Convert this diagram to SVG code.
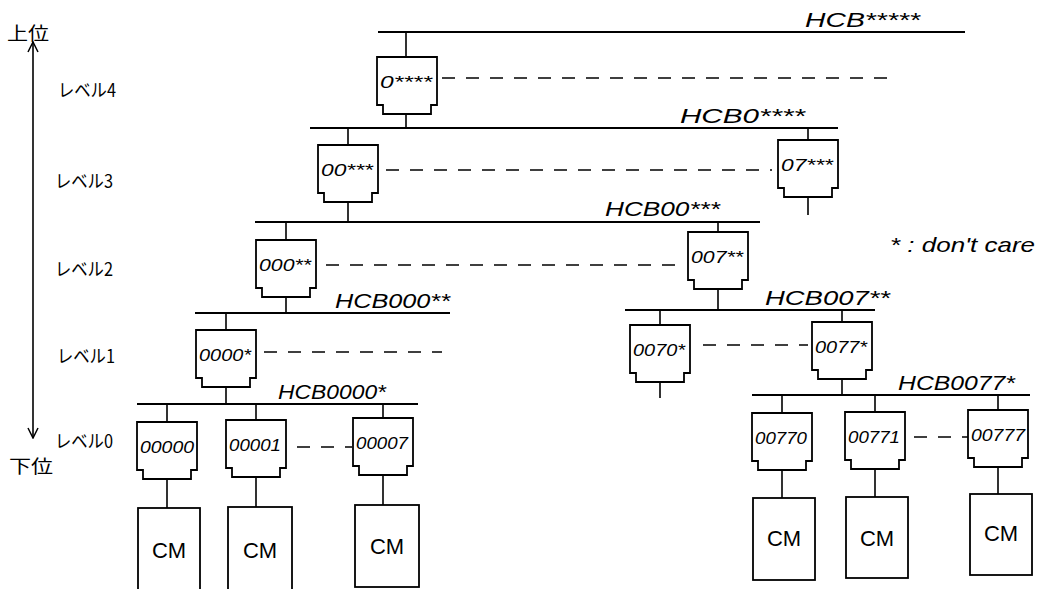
<svg xmlns="http://www.w3.org/2000/svg" width="1039" height="589" viewBox="0 0 1039 589">
<style>
.ln{stroke:#000;stroke-width:1.6;fill:none}
.bus{stroke:#000;stroke-width:2;fill:none}
.dash{stroke:#000;stroke-width:1.4;fill:none;stroke-dasharray:13 11}
.box{stroke:#000;stroke-width:1.8;fill:#fff}
.nt{font-family:"Liberation Sans",sans-serif;font-style:italic;font-size:17px;fill:#000}
.hcb{font-family:"Liberation Sans",sans-serif;font-style:italic;font-size:20px;fill:#000}
.lv{font-family:"Noto Sans CJK JP","Liberation Sans",sans-serif;font-size:18px;fill:#000}
.cm{font-family:"Liberation Sans",sans-serif;font-size:22px;fill:#000;text-anchor:middle}
.lg{font-family:"Liberation Sans",sans-serif;font-style:italic;font-size:21px;fill:#000}
</style>
<defs>
<path id="nd" d="M0,0 H60 V48 H54 V57 H6 V48 H0 Z"/>
<marker id="ah" viewBox="0 0 12 12" refX="11" refY="6" markerWidth="12" markerHeight="12" orient="auto-start-reverse" markerUnits="userSpaceOnUse">
<path d="M1,1 L11,6 L1,11" fill="none" stroke="#000" stroke-width="1.5"/>
</marker>
</defs>
<rect width="1039" height="589" fill="#fff"/>

<g id="axis">
<line class="ln" x1="33" y1="42" x2="33" y2="438" marker-start="url(#ah)" marker-end="url(#ah)"/>
<text class="lv" x="7" y="40" font-size="20" textLength="42" lengthAdjust="spacingAndGlyphs">上位</text>
<text class="lv" x="9" y="473" font-size="20" textLength="44" lengthAdjust="spacingAndGlyphs">下位</text>
<text class="lv" x="58" y="97" textLength="58" lengthAdjust="spacingAndGlyphs">レベル4</text>
<text class="lv" x="55" y="188" textLength="58" lengthAdjust="spacingAndGlyphs">レベル3</text>
<text class="lv" x="55" y="276" textLength="58" lengthAdjust="spacingAndGlyphs">レベル2</text>
<text class="lv" x="57" y="363" textLength="58" lengthAdjust="spacingAndGlyphs">レベル1</text>
<text class="lv" x="55" y="448" textLength="58" lengthAdjust="spacingAndGlyphs">レベル0</text>
</g>

<g id="connectors">
<line class="bus" x1="378" y1="32" x2="965" y2="32"/>
<line class="bus" x1="310" y1="128" x2="838" y2="128"/>
<line class="bus" x1="255" y1="222" x2="760" y2="222"/>
<line class="bus" x1="195" y1="313" x2="450" y2="313"/>
<line class="bus" x1="625" y1="310" x2="875" y2="310"/>
<line class="bus" x1="137" y1="404" x2="418" y2="404"/>
<line class="bus" x1="752" y1="395" x2="1030" y2="395"/>
<path class="ln" d="M406,32 V57 M406,114 V128 M348,128 V145 M808,128 V140 M348,202 V222 M808,197 V215 M286,222 V240 M718,222 V232 M286,297 V313 M718,289 V310 M226,313 V330 M660,310 V325 M842,310 V322 M226,387 V404 M660,382 V398 M842,379 V395 M167,404 V422 M256,404 V420 M383,404 V418 M782,395 V413 M875,395 V412 M998,395 V410 M167,479 V508 M256,477 V507 M383,475 V505 M782,470 V498 M875,469 V497 M998,467 V494"/>
<line class="dash" x1="442" y1="78" x2="890" y2="78"/>
<line class="dash" x1="386" y1="170" x2="772" y2="170"/>
<line class="dash" x1="326" y1="265" x2="686" y2="265"/>
<line class="dash" x1="264" y1="352" x2="442" y2="352"/>
<line class="dash" x1="703" y1="345" x2="808" y2="345"/>
<line class="dash" x1="297" y1="447" x2="352" y2="447"/>
<line class="dash" x1="914" y1="437" x2="968" y2="437"/>
<text class="hcb" x="805" y="27" textLength="115" lengthAdjust="spacingAndGlyphs">HCB*****</text>
<text class="hcb" x="680" y="123" textLength="125" lengthAdjust="spacingAndGlyphs">HCB0****</text>
<text class="hcb" x="605" y="216" textLength="115" lengthAdjust="spacingAndGlyphs">HCB00***</text>
<text class="hcb" x="335" y="308" textLength="115" lengthAdjust="spacingAndGlyphs">HCB000**</text>
<text class="hcb" x="765" y="305" textLength="125" lengthAdjust="spacingAndGlyphs">HCB007**</text>
<text class="hcb" x="278" y="399" textLength="108" lengthAdjust="spacingAndGlyphs">HCB0000*</text>
<text class="hcb" x="898" y="390" textLength="117" lengthAdjust="spacingAndGlyphs">HCB0077*</text>
</g>

<g id="n0____"><use href="#nd" class="box" x="377" y="57"/><text class="nt" x="380" y="88" textLength="52" lengthAdjust="spacingAndGlyphs">0****</text></g>
<g id="n00___"><use href="#nd" class="box" x="318" y="145"/><text class="nt" x="321" y="176" textLength="52" lengthAdjust="spacingAndGlyphs">00***</text></g>
<g id="n07___"><use href="#nd" class="box" x="778" y="140"/><text class="nt" x="781" y="171" textLength="52" lengthAdjust="spacingAndGlyphs">07***</text></g>
<g id="n000__"><use href="#nd" class="box" x="256" y="240"/><text class="nt" x="259" y="271" textLength="52" lengthAdjust="spacingAndGlyphs">000**</text></g>
<g id="n007__"><use href="#nd" class="box" x="688" y="232"/><text class="nt" x="691" y="263" textLength="52" lengthAdjust="spacingAndGlyphs">007**</text></g>
<g id="n0000_"><use href="#nd" class="box" x="196" y="330"/><text class="nt" x="199" y="361" textLength="52" lengthAdjust="spacingAndGlyphs">0000*</text></g>
<g id="n0070_"><use href="#nd" class="box" x="630" y="325"/><text class="nt" x="633" y="356" textLength="52" lengthAdjust="spacingAndGlyphs">0070*</text></g>
<g id="n0077_"><use href="#nd" class="box" x="812" y="322"/><text class="nt" x="815" y="353" textLength="52" lengthAdjust="spacingAndGlyphs">0077*</text></g>
<g id="n00000"><use href="#nd" class="box" x="137" y="422"/><text class="nt" x="140" y="453" textLength="54" lengthAdjust="spacingAndGlyphs">00000</text></g>
<g id="n00001"><use href="#nd" class="box" x="226" y="420"/><text class="nt" x="229" y="451" textLength="52" lengthAdjust="spacingAndGlyphs">00001</text></g>
<g id="n00007"><use href="#nd" class="box" x="353" y="418"/><text class="nt" x="356" y="449" textLength="52" lengthAdjust="spacingAndGlyphs">00007</text></g>
<g id="n00770"><use href="#nd" class="box" x="752" y="413"/><text class="nt" x="755" y="444" textLength="52" lengthAdjust="spacingAndGlyphs">00770</text></g>
<g id="n00771"><use href="#nd" class="box" x="845" y="412"/><text class="nt" x="848" y="443" textLength="52" lengthAdjust="spacingAndGlyphs">00771</text></g>
<g id="n00777"><use href="#nd" class="box" x="968" y="410"/><text class="nt" x="971" y="441" textLength="54" lengthAdjust="spacingAndGlyphs">00777</text></g>

<g id="cm1"><rect class="box" x="138" y="508" width="62" height="84"/><text class="cm" x="169" y="558">CM</text></g>
<g id="cm2"><rect class="box" x="228" y="507" width="64" height="84"/><text class="cm" x="260" y="558">CM</text></g>
<g id="cm3"><rect class="box" x="355" y="505" width="64" height="82"/><text class="cm" x="387" y="554">CM</text></g>
<g id="cm4"><rect class="box" x="753" y="498" width="62" height="82"/><text class="cm" x="784" y="546">CM</text></g>
<g id="cm5"><rect class="box" x="846" y="497" width="62" height="81"/><text class="cm" x="877" y="546">CM</text></g>
<g id="cm6"><rect class="box" x="970" y="494" width="62" height="81"/><text class="cm" x="1001" y="541">CM</text></g>

<g id="legend"><text class="lg" x="890" y="252" textLength="145" lengthAdjust="spacingAndGlyphs">* : don't care</text></g>
</svg>
